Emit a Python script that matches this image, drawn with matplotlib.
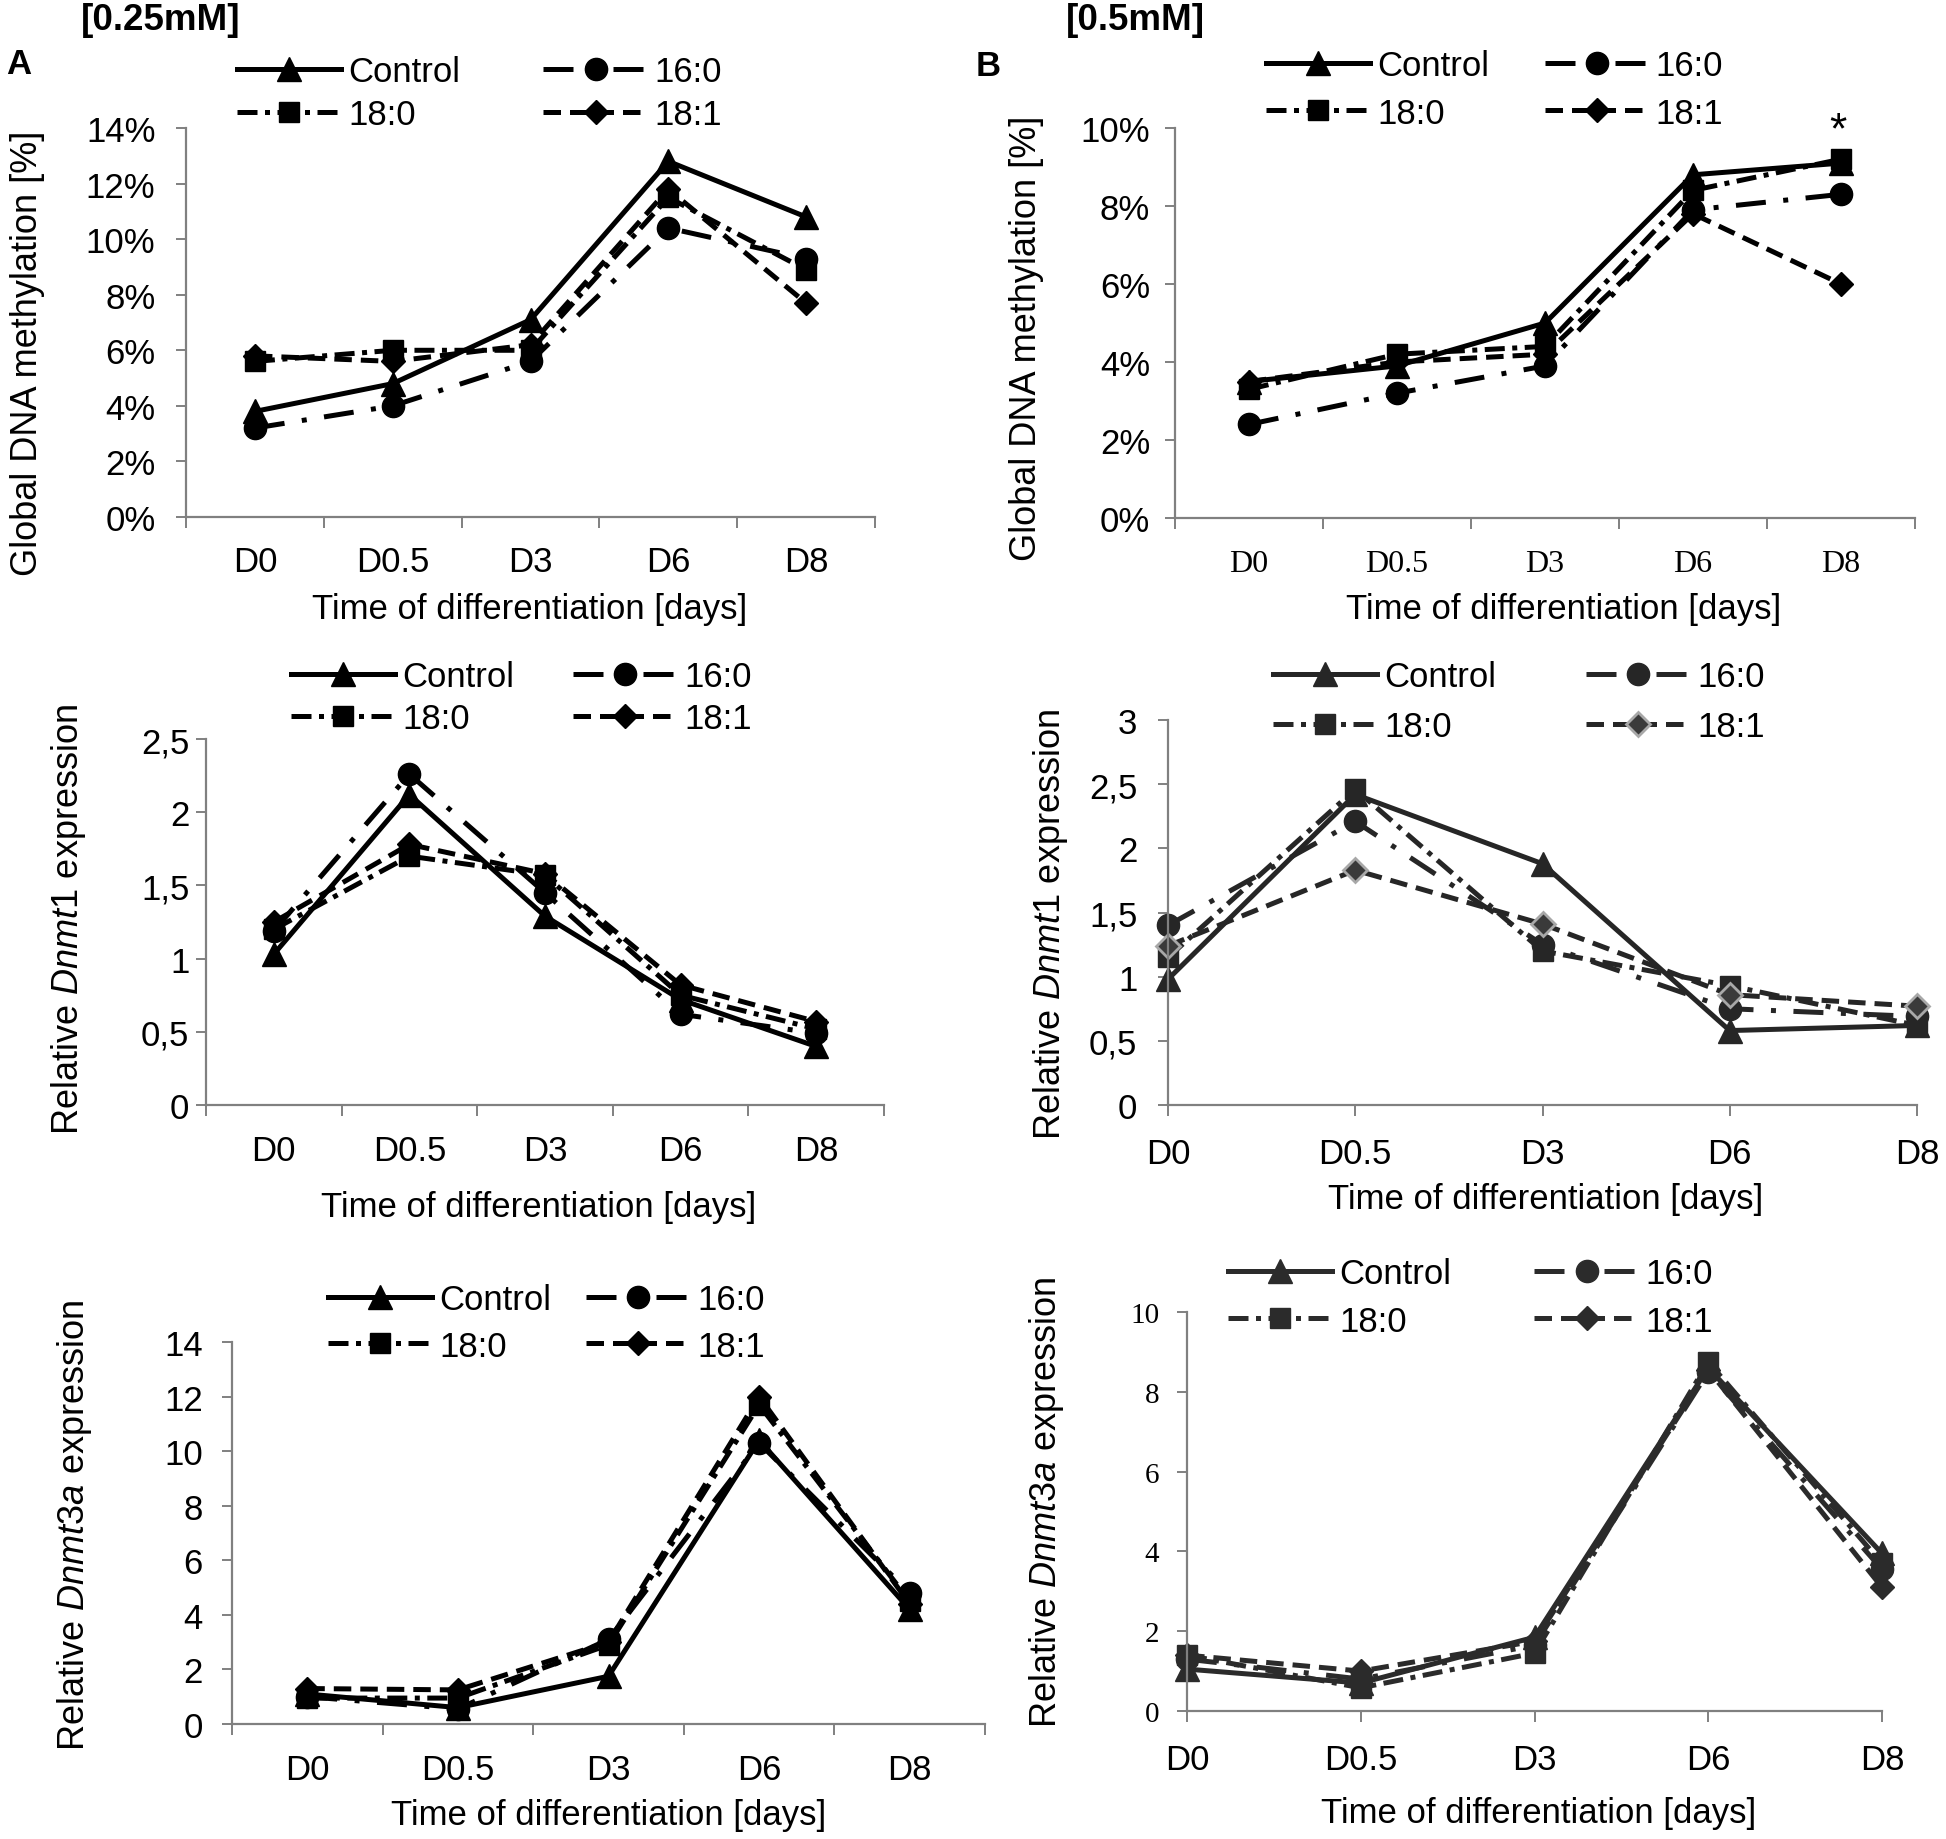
import numpy as np
import matplotlib
matplotlib.use("Agg")
import matplotlib.pyplot as plt
from matplotlib.ticker import FixedLocator, FuncFormatter

plt.rcParams['font.family'] = ['Liberation Sans', 'DejaVu Sans']
plt.rcParams['mathtext.fontset'] = 'custom'
plt.rcParams['mathtext.rm'] = 'Liberation Sans'
plt.rcParams['mathtext.it'] = 'Liberation Sans:italic'

days = ["D0", "D0.5", "D3", "D6", "D8"]
series = ["Control", "16:0", "18:0", "18:1"]

# global DNA methylation [%], 0.25 mM
meth_a_control = [3.8, 4.8, 7.1, 12.8, 10.8]
meth_a_16_0 = [3.2, 4.0, 5.6, 10.4, 9.3]
meth_a_18_0 = [5.6, 6.0, 6.0, 11.5, 8.9]
meth_a_18_1 = [5.8, 5.6, 6.2, 11.8, 7.7]

# global DNA methylation [%], 0.5 mM
meth_b_control = [3.5, 3.9, 5.0, 8.8, 9.1]
meth_b_16_0 = [2.4, 3.2, 3.9, 7.9, 8.3]
meth_b_18_0 = [3.3, 4.2, 4.4, 8.4, 9.2]
meth_b_18_1 = [3.5, 4.0, 4.2, 7.8, 6.0]

# relative Dnmt1 expression
dnmt1_a_control = [1.03, 2.12, 1.29, 0.72, 0.40]
dnmt1_a_16_0 = [1.19, 2.26, 1.45, 0.62, 0.49]
dnmt1_a_18_0 = [1.20, 1.70, 1.57, 0.75, 0.52]
dnmt1_a_18_1 = [1.25, 1.78, 1.58, 0.82, 0.57]

dnmt1_b_control = [0.98, 2.42, 1.88, 0.58, 0.62]
dnmt1_b_16_0 = [1.40, 2.21, 1.25, 0.75, 0.69]
dnmt1_b_18_0 = [1.15, 2.46, 1.20, 0.93, 0.62]
dnmt1_b_18_1 = [1.24, 1.83, 1.41, 0.86, 0.77]

# relative Dnmt3a expression
dnmt3a_a_control = [1.1, 0.6, 1.75, 10.4, 4.2]
dnmt3a_a_16_0 = [1.0, 0.55, 3.1, 10.3, 4.8]
dnmt3a_a_18_0 = [0.95, 0.95, 2.9, 11.7, 4.5]
dnmt3a_a_18_1 = [1.3, 1.25, 3.0, 12.0, 4.4]

dnmt3a_b_control = [1.05, 0.7, 1.85, 8.6, 3.95]
dnmt3a_b_16_0 = [1.3, 0.8, 1.65, 8.5, 3.55]
dnmt3a_b_18_0 = [1.4, 0.58, 1.45, 8.75, 3.7]
dnmt3a_b_18_1 = [1.4, 1.0, 1.75, 8.55, 3.1]

W, H = 1946, 1840
fig = plt.figure(figsize=(W / 100, H / 100), dpi=100)

def fx(x):
    return x / W

def fy(y):
    return 1 - y / H

# marker + dash pattern per series (dashes in units of linewidth)
styles = {
    "Control": dict(marker="^", dashes=None, ms=17),
    "16:0": dict(marker="o", dashes=(6, 3.5, 1, 3.5), ms=16),
    "18:0": dict(marker="s", dashes=(4, 1.5, 1, 1.5), ms=15),
    "18:1": dict(marker="D", dashes=(3.5, 1.8), ms=12),
}
SPINE = "#808080"


def panel(box, ylim, ystep, yfmt, data, between, color, leg, diamond_face=None,
          xtick_font=None, ytick_font=None, xpad=20, ypad=14):
    x0, yt, x1, yb = box
    ax = fig.add_axes([fx(x0), fy(yb), (x1 - x0) / W, (yb - yt) / H])
    x = np.arange(len(days))
    handles = {}
    for name, vals in zip(series, data):
        st = styles[name]
        kw = dict(color=color, lw=3.6, marker=st["marker"], ms=st["ms"],
                  markerfacecolor=color, markeredgecolor=color, clip_on=False,
                  label=name)
        if name == "18:1" and diamond_face is not None:
            kw["markerfacecolor"] = diamond_face[0]
            kw["markeredgecolor"] = diamond_face[1]
            kw["markeredgewidth"] = 2
        if st["dashes"] is not None:
            kw["linestyle"] = (0, st["dashes"])
        (ln,) = ax.plot(x, vals, **kw)
        handles[name] = ln
    ax.set_ylim(*ylim)
    ax.yaxis.set_major_locator(FixedLocator(np.arange(ylim[0], ylim[1] + ystep / 2, ystep)))
    ax.yaxis.set_major_formatter(FuncFormatter(yfmt))
    if between:
        ax.set_xlim(-0.5, len(days) - 0.5)
        ax.set_xticks(x)
        ax.set_xticks(np.arange(-0.5, len(days)), minor=True)
        ax.tick_params(axis="x", which="major", length=0, pad=xpad)
        ax.tick_params(axis="x", which="minor", length=8, width=1.4, color=SPINE, direction="out")
    else:
        ax.set_xlim(0, len(days) - 1)
        ax.set_xticks(x)
        ax.tick_params(axis="x", which="major", length=8, width=1.4, color=SPINE,
                       direction="out", pad=xpad)
    ax.set_xticklabels(days)
    ax.tick_params(axis="y", length=7, width=1.4, color=SPINE, direction="out", pad=ypad)
    for lab in ax.get_xticklabels():
        lab.set_fontsize(25)
        if xtick_font:
            lab.set_family(xtick_font[0])
            lab.set_fontsize(xtick_font[1])
    for lab in ax.get_yticklabels():
        lab.set_fontsize(25)
        if ytick_font:
            lab.set_family(ytick_font[0])
            lab.set_fontsize(ytick_font[1])
    for s in ["top", "right"]:
        ax.spines[s].set_visible(False)
    for s in ["left", "bottom"]:
        ax.spines[s].set_color(SPINE)
        ax.spines[s].set_linewidth(1.6)

    lx, ly, lsp, csp = leg
    order = ["Control", "18:0", "16:0", "18:1"]
    fig.legend([handles[n] for n in order], order, ncol=2, loc="upper left",
               bbox_to_anchor=(fx(lx), fy(ly)), frameon=False, fontsize=25,
               handlelength=3.0, handletextpad=0.2, labelspacing=lsp,
               columnspacing=csp, borderpad=0, borderaxespad=0, markerscale=1.0)
    return ax


pct = lambda v, p: f"{v:.0f}%"
comma = lambda v, p: f"{v:g}".replace(".", ",")
plain = lambda v, p: f"{v:g}"

# top row: global DNA methylation
panel((186, 129, 875, 518), (0, 14), 2, pct,
      [meth_a_control, meth_a_16_0, meth_a_18_0, meth_a_18_1],
      True, "black", (237, 56, 0.3, 2.4), xpad=20, ypad=15)
panel((1175, 129, 1915, 519), (0, 10), 2, pct,
      [meth_b_control, meth_b_16_0, meth_b_18_0, meth_b_18_1],
      True, "black", (1266, 50, 0.42, 1.6),
      xtick_font=("Liberation Serif", 23), xpad=22, ypad=11)

# middle row: Dnmt1
panel((206, 740, 884, 1106), (0, 2.5), 0.5, comma,
      [dnmt1_a_control, dnmt1_a_16_0, dnmt1_a_18_0, dnmt1_a_18_1],
      True, "black", (291, 661, 0.27, 1.7), xpad=21, ypad=5)
panel((1168, 721, 1917, 1106), (0, 3), 0.5, comma,
      [dnmt1_b_control, dnmt1_b_16_0, dnmt1_b_18_0, dnmt1_b_18_1],
      False, "#262626", (1273, 661, 0.5, 2.6), diamond_face=("#3a3a3a", "#a8a8a8"),
      xpad=15, ypad=15)

# bottom row: Dnmt3a
panel((232, 1343, 985, 1725), (0, 14), 2, plain,
      [dnmt3a_a_control, dnmt3a_a_16_0, dnmt3a_a_18_0, dnmt3a_a_18_1],
      True, "black", (328, 1284, 0.39, 1.0), xpad=21, ypad=14)
panel((1187, 1313, 1882, 1712), (0, 10), 2, plain,
      [dnmt3a_b_control, dnmt3a_b_16_0, dnmt3a_b_18_0, dnmt3a_b_18_1],
      False, "#2b2b2b", (1228, 1258, 0.42, 2.4),
      ytick_font=("Liberation Serif", 21), xpad=15, ypad=13)

# axis titles
ylabels = [
    (28, 353, "Global DNA methylation [%]"),
    (1026, 338, "Global DNA methylation [%]"),
    (69, 919, r"Relative $\mathit{Dnmt1}$ expression"),
    (1051, 924, r"Relative $\mathit{Dnmt1}$ expression"),
    (75, 1525, r"Relative $\mathit{Dnmt3a}$ expression"),
    (1046, 1502, r"Relative $\mathit{Dnmt3a}$ expression"),
]
for x, y, t in ylabels:
    fig.text(fx(x), fy(y), t, rotation=90, ha="center", va="center", fontsize=26)

xlabels = [(530, 610), (1564, 610), (539, 1208), (1546, 1199), (609, 1816), (1539, 1814)]
for x, y in xlabels:
    fig.text(fx(x), fy(y), "Time of differentiation [days]", ha="center", va="center",
             fontsize=25)

fig.text(fx(81), fy(20), "[0.25mM]", ha="left", va="center", fontsize=26.5, fontweight="bold")
fig.text(fx(1066), fy(20), "[0.5mM]", ha="left", va="center", fontsize=26.5, fontweight="bold")
fig.text(fx(6), fy(65), "A", ha="left", va="center", fontsize=25, fontweight="bold")
fig.text(fx(976), fy(67), "B", ha="left", va="center", fontsize=25, fontweight="bold")

# significance mark
fig.text(fx(1838), fy(132), "*", ha="center", va="center", fontsize=32)

fig.savefig("out.png", dpi=100, facecolor="white")
